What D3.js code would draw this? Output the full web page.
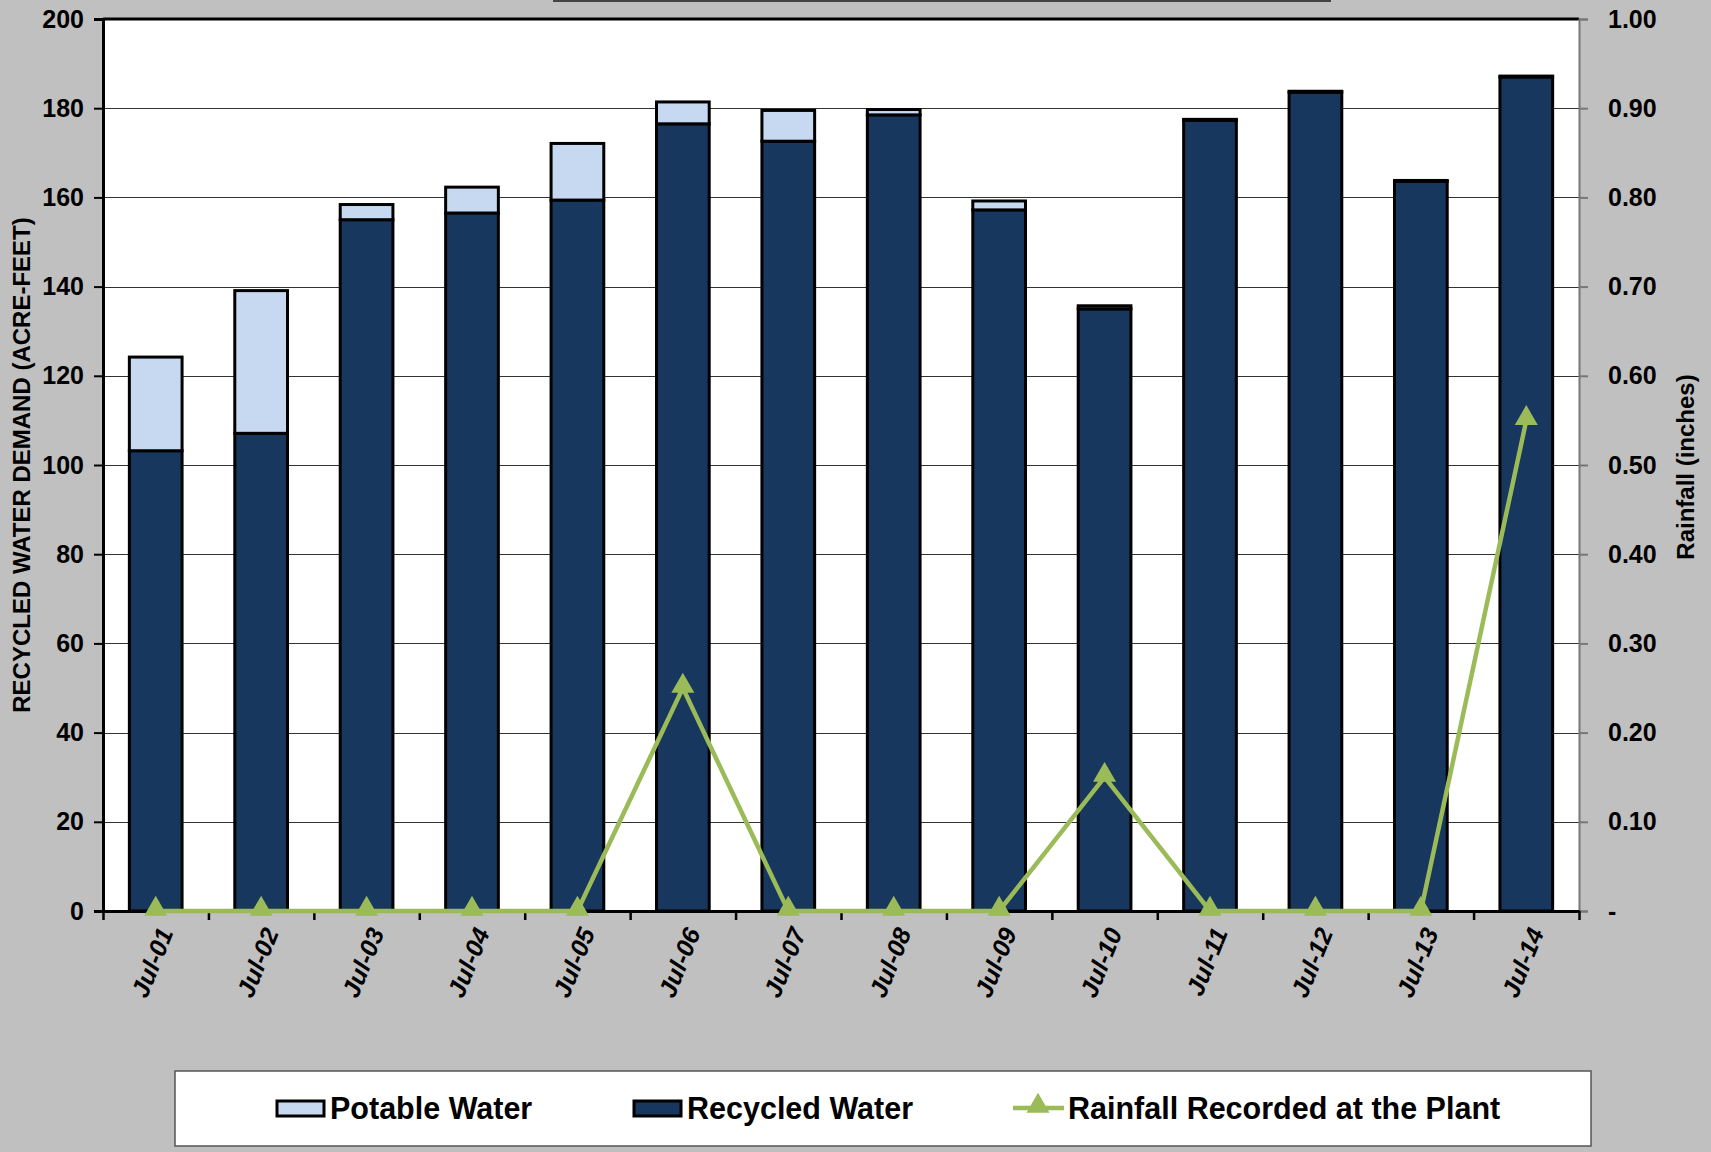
<!DOCTYPE html>
<html>
<head>
<meta charset="utf-8">
<script src="https://cdn.jsdelivr.net/npm/d3@7"></script>
<style>
  body { margin: 0; background: #c0c0c0; }
  text { font-family: "Liberation Sans", Arial, sans-serif; font-weight: bold; }
</style>
</head>
<body>
<div class="chart"></div>
<script>
//data//
let categories = ['Jul-01', 'Jul-02', 'Jul-03', 'Jul-04', 'Jul-05', 'Jul-06', 'Jul-07',
                  'Jul-08', 'Jul-09', 'Jul-10', 'Jul-11', 'Jul-12', 'Jul-13', 'Jul-14'];
let recycled = [103.2, 107.1, 155.0, 156.5, 159.4, 176.5, 172.6, 178.5, 157.2, 135.0, 177.3, 183.6, 163.6, 187.0];
let potable = [21.0, 32.0, 3.4, 5.8, 12.7, 4.9, 6.9, 1.2, 2.0, 0.7, 0.2, 0.2, 0.2, 0.2];
let rainfall = [0, 0, 0, 0, 0, 0.25, 0, 0, 0, 0.15, 0, 0, 0, 0.55];
let leftTicks = [0, 20, 40, 60, 80, 100, 120, 140, 160, 180, 200];
let rightTicks = [0, 0.1, 0.2, 0.3, 0.4, 0.5, 0.6, 0.7, 0.8, 0.9, 1.0];

//sizes//
let W = 1711, H = 1152;
let pLeft = 103, pRight = 1579, pTop = 19, pBottom = 911;

let svg = d3.select('.chart')
    .append('svg')
    .attr('width', W)
    .attr('height', H)
    .style('display', 'block')
    .style('background-color', '#c0c0c0');

// remains of a title box cut at the top
svg.append('line')
    .attr('x1', 553).attr('x2', 1331)
    .attr('y1', 1).attr('y2', 1)
    .attr('stroke', '#444').attr('stroke-width', 2);

let x = d3.scaleBand()
    .domain(categories)
    .range([pLeft, pRight])
    .paddingInner(0.5)
    .paddingOuter(0.25);

let y = d3.scaleLinear().domain([0, 200]).range([pBottom, pTop]);
let y2 = d3.scaleLinear().domain([0, 1]).range([pBottom, pTop]);

// plot area
svg.append('rect')
    .attr('x', pLeft).attr('y', pTop)
    .attr('width', pRight - pLeft).attr('height', pBottom - pTop)
    .attr('fill', '#fff');

// grid
svg.append('g')
    .selectAll('line')
    .data(leftTicks.slice(1, -1))
    .enter()
    .append('line')
    .attr('x1', pLeft).attr('x2', pRight)
    .attr('y1', d => Math.round(y(d)) + 0.5)
    .attr('y2', d => Math.round(y(d)) + 0.5)
    .attr('stroke', '#333')
    .attr('stroke-width', 1.2);

// bars
let bars = svg.append('g');
bars.selectAll('rect.rec')
    .data(categories)
    .enter()
    .append('rect')
    .attr('class', 'rec')
    .attr('x', d => x(d))
    .attr('y', (d, i) => y(recycled[i]))
    .attr('width', x.bandwidth())
    .attr('height', (d, i) => y(0) - y(recycled[i]))
    .attr('fill', '#17375e')
    .attr('stroke', '#000')
    .attr('stroke-width', 3);

bars.selectAll('rect.pot')
    .data(categories)
    .enter()
    .append('rect')
    .attr('class', 'pot')
    .attr('x', d => x(d))
    .attr('y', (d, i) => y(recycled[i] + potable[i]))
    .attr('width', x.bandwidth())
    .attr('height', (d, i) => y(recycled[i]) - y(recycled[i] + potable[i]))
    .attr('fill', '#c6d9f1')
    .attr('stroke', '#000')
    .attr('stroke-width', 3);

// top frame line
svg.append('line')
    .attr('x1', pLeft).attr('x2', pRight)
    .attr('y1', pTop).attr('y2', pTop)
    .attr('stroke', '#000').attr('stroke-width', 3);

// left axis
let yAxis = d3.axisLeft(y)
    .tickValues(leftTicks)
    .tickSize(9)
    .tickPadding(10);

let gy = svg.append('g')
    .attr('transform', `translate(${pLeft}, 0)`)
    .call(yAxis);
gy.select('.domain').attr('stroke', '#000').attr('stroke-width', 3);
gy.selectAll('.tick line').attr('stroke', '#000').attr('stroke-width', 2);
gy.selectAll('text').style('font-size', '25px').attr('fill', '#000');

// right axis
let y2Axis = d3.axisRight(y2)
    .tickValues(rightTicks)
    .tickSize(9)
    .tickPadding(20)
    .tickFormat(d => d === 0 ? '-' : d.toFixed(2));

let gy2 = svg.append('g')
    .attr('transform', `translate(${pRight}, 0)`)
    .call(y2Axis);
gy2.select('.domain').attr('stroke', '#777').attr('stroke-width', 2);
gy2.selectAll('.tick line').attr('stroke', '#777').attr('stroke-width', 2);
gy2.selectAll('text').style('font-size', '25px').attr('fill', '#000');

// bottom axis: ticks between categories
let xEdges = d3.scaleLinear().domain([0, categories.length]).range([pLeft, pRight]);
let xAxis = d3.axisBottom(xEdges)
    .tickValues(d3.range(categories.length + 1))
    .tickSize(9)
    .tickSizeOuter(0)
    .tickFormat('');

let gx = svg.append('g')
    .attr('transform', `translate(0, ${pBottom})`)
    .call(xAxis);
gx.select('.domain').attr('stroke', '#000').attr('stroke-width', 3);
gx.selectAll('.tick line').attr('stroke', '#000').attr('stroke-width', 2.5);

// category labels
svg.append('g')
    .selectAll('text')
    .data(categories)
    .enter()
    .append('text')
    .attr('transform', d => `translate(${x(d) + x.bandwidth() / 2 + 10}, ${pBottom + 18}) rotate(-68)`)
    .attr('text-anchor', 'end')
    .attr('dy', '0.35em')
    .style('font-size', '25px')
    .style('font-style', 'italic')
    .text(d => d);

// rainfall line
let line = d3.line()
    .x((d, i) => x(categories[i]) + x.bandwidth() / 2)
    .y(d => y2(d));

svg.append('path')
    .datum(rainfall)
    .attr('d', line)
    .attr('fill', 'none')
    .attr('stroke', '#9bbb59')
    .attr('stroke-width', 4.5);

svg.append('g')
    .selectAll('path')
    .data(rainfall)
    .enter()
    .append('path')
    .attr('d', d3.symbol(d3.symbolTriangle, 230))
    .attr('transform', (d, i) => `translate(${x(categories[i]) + x.bandwidth() / 2}, ${y2(d) - 2})`)
    .attr('fill', '#9bbb59');

// axis titles
svg.append('text')
    .attr('transform', `translate(30, ${(pTop + pBottom) / 2}) rotate(-90)`)
    .attr('text-anchor', 'middle')
    .style('font-size', '24px')
    .text('RECYCLED WATER DEMAND (ACRE-FEET)');

svg.append('text')
    .attr('transform', `translate(1694, ${(pTop + pBottom) / 2 + 2}) rotate(-90)`)
    .attr('text-anchor', 'middle')
    .style('font-size', '24px')
    .text('Rainfall (inches)');

// legend
let legend = svg.append('g');
legend.append('rect')
    .attr('x', 175).attr('y', 1071)
    .attr('width', 1416).attr('height', 75)
    .attr('fill', '#fff')
    .attr('stroke', '#555')
    .attr('stroke-width', 1.5);

let ly = 1108;
legend.append('rect')
    .attr('x', 277).attr('y', ly - 7).attr('width', 47).attr('height', 15)
    .attr('fill', '#c6d9f1').attr('stroke', '#000').attr('stroke-width', 3);
legend.append('text')
    .attr('x', 330).attr('y', ly).attr('dy', '0.35em')
    .style('font-size', '30.5px').text('Potable Water');

legend.append('rect')
    .attr('x', 634).attr('y', ly - 7).attr('width', 47).attr('height', 15)
    .attr('fill', '#17375e').attr('stroke', '#000').attr('stroke-width', 3);
legend.append('text')
    .attr('x', 687).attr('y', ly).attr('dy', '0.35em')
    .style('font-size', '30.5px').text('Recycled Water');

legend.append('line')
    .attr('x1', 1013).attr('x2', 1064).attr('y1', ly).attr('y2', ly)
    .attr('stroke', '#9bbb59').attr('stroke-width', 4.5);
legend.append('path')
    .attr('d', d3.symbol(d3.symbolTriangle, 230))
    .attr('transform', `translate(1038, ${ly - 2})`)
    .attr('fill', '#9bbb59');
legend.append('text')
    .attr('x', 1068).attr('y', ly).attr('dy', '0.35em')
    .style('font-size', '30.5px').text('Rainfall Recorded at the Plant');
</script>
</body>
</html>
